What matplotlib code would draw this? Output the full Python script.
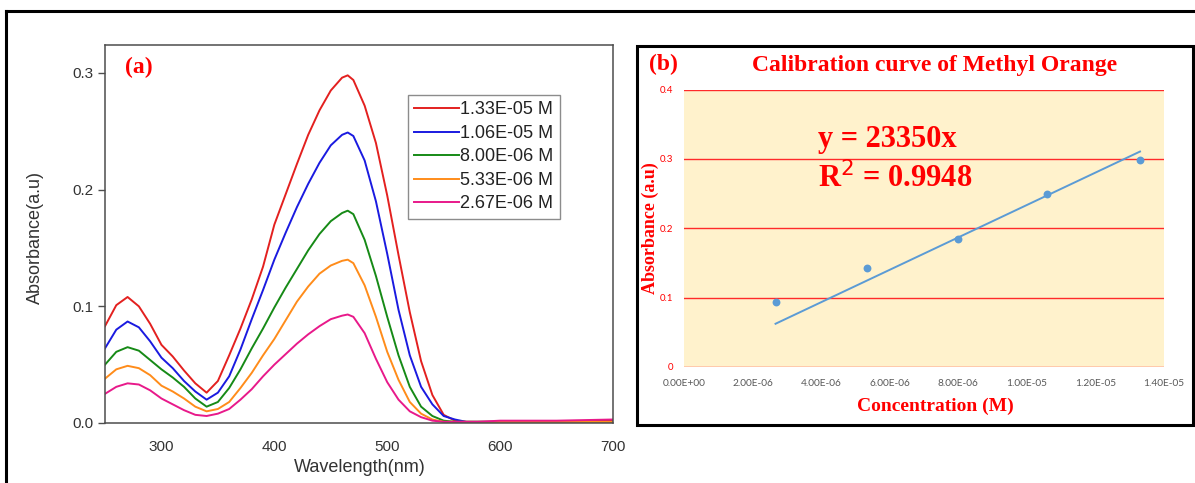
import matplotlib
matplotlib.use('Agg')
import matplotlib.pyplot as plt
from matplotlib.patches import Rectangle
from matplotlib.lines import Line2D

# ---------------- data: panel (a) UV-Vis spectra ----------------
wavelength = [250, 260, 270, 280, 290, 300, 310, 320, 330, 340,
              350, 360, 370, 380, 390, 400, 410, 420, 430, 440,
              450, 460, 465, 470, 480, 490, 500, 510, 520, 530,
              540, 550, 560, 570, 580, 600, 650, 700]

abs_133e5 = [0.083, 0.101, 0.108, 0.100, 0.085, 0.067, 0.057, 0.045, 0.034, 0.026,
             0.036, 0.058, 0.081, 0.106, 0.134, 0.170, 0.196, 0.222, 0.247, 0.268,
             0.285, 0.296, 0.298, 0.294, 0.272, 0.240, 0.195, 0.144, 0.095, 0.053,
             0.024, 0.007, 0.002, 0.001, 0.001, 0.001, 0.001, 0.002]
abs_106e5 = [0.064, 0.080, 0.087, 0.082, 0.070, 0.056, 0.047, 0.036, 0.027, 0.020,
             0.026, 0.040, 0.063, 0.089, 0.114, 0.140, 0.163, 0.185, 0.205, 0.223,
             0.238, 0.247, 0.249, 0.246, 0.225, 0.190, 0.145, 0.097, 0.058, 0.031,
             0.016, 0.006, 0.003, 0.001, 0.001, 0.001, 0.001, 0.001]
abs_800e6 = [0.050, 0.061, 0.065, 0.062, 0.054, 0.046, 0.039, 0.031, 0.021, 0.014,
             0.018, 0.030, 0.046, 0.064, 0.081, 0.099, 0.116, 0.132, 0.148, 0.162,
             0.173, 0.180, 0.182, 0.179, 0.157, 0.126, 0.091, 0.058, 0.031, 0.014,
             0.006, 0.002, 0.001, 0.001, 0.001, 0.001, 0.001, 0.001]
abs_533e6 = [0.038, 0.046, 0.049, 0.047, 0.041, 0.032, 0.027, 0.021, 0.014, 0.010,
             0.012, 0.018, 0.030, 0.043, 0.058, 0.072, 0.088, 0.104, 0.117, 0.128,
             0.135, 0.139, 0.140, 0.137, 0.118, 0.091, 0.061, 0.037, 0.018, 0.008,
             0.003, 0.001, 0.001, 0.001, 0.001, 0.001, 0.001, 0.001]
abs_267e6 = [0.025, 0.031, 0.034, 0.033, 0.028, 0.021, 0.016, 0.011, 0.007, 0.006,
             0.008, 0.012, 0.020, 0.029, 0.040, 0.050, 0.059, 0.068, 0.076, 0.083,
             0.089, 0.092, 0.093, 0.091, 0.077, 0.055, 0.035, 0.020, 0.010, 0.005,
             0.002, 0.001, 0.001, 0.001, 0.001, 0.002, 0.002, 0.003]

series_labels = ['1.33E-05 M', '1.06E-05 M', '8.00E-06 M', '5.33E-06 M', '2.67E-06 M']
series_values = [abs_133e5, abs_106e5, abs_800e6, abs_533e6, abs_267e6]
series_colors = ['#e3201f', '#1a1ae0', '#168a16', '#ff8c1a', '#e8198a']

a_xticks = [300, 400, 500, 600, 700]
a_yticks = [0.0, 0.1, 0.2, 0.3]
a_ytick_labels = ['0.0', '0.1', '0.2', '0.3']

# ---------------- data: panel (b) calibration ----------------
concentration = [2.67e-6, 5.33e-6, 8.00e-6, 1.06e-5, 1.33e-5]
absorbance = [0.093, 0.142, 0.184, 0.249, 0.299]
slope = 23350
b_xticks = [0, 2e-6, 4e-6, 6e-6, 8e-6, 1.0e-5, 1.2e-5, 1.4e-5]
b_xtick_labels = ['0.00E+00', '2.00E-06', '4.00E-06', '6.00E-06', '8.00E-06',
                  '1.00E-05', '1.20E-05', '1.40E-05']
b_yticks = [0, 0.1, 0.2, 0.3, 0.4]
b_ytick_labels = ['0', '0.1', '0.2', '0.3', '0.4']

# ---------------- figure ----------------
W, H = 1195, 483
fig = plt.figure(figsize=(W / 100, H / 100), dpi=100)
fig.patch.set_facecolor('white')

def fx(px):
    return px / W

def fy(py):
    return 1 - py / H

SANS = ['Liberation Sans', 'DejaVu Sans']
SERIF = ['Liberation Serif', 'DejaVu Serif']
RED = '#ff0000'

# outer frame (top and left edges visible)
fig.add_artist(Line2D([fx(6), 1.0], [fy(11), fy(11)], transform=fig.transFigure,
                      color='black', lw=2.2))
fig.add_artist(Line2D([fx(6), fx(6)], [fy(11), 0.0], transform=fig.transFigure,
                      color='black', lw=2.2))

# ---------------- panel (a) ----------------
axa = fig.add_axes([fx(105), fy(423), fx(613) - fx(105), fy(45) - fy(423)])
for vals, lab, col in zip(series_values, series_labels, series_colors):
    axa.plot(wavelength, vals, color=col, lw=1.4, label=lab,
             solid_joinstyle='round')
axa.set_xlim(250, 700)
axa.set_ylim(0, 0.324)
axa.set_xticks(a_xticks)
axa.set_yticks(a_yticks)
axa.set_yticklabels(a_ytick_labels)
for s in axa.spines.values():
    s.set_color('#4d4d4d')
    s.set_linewidth(1.1)
axa.tick_params(axis='y', direction='out', length=5, width=1.0, color='#4d4d4d',
                pad=3, labelsize=11, labelcolor='#333333')
axa.tick_params(axis='x', length=0, pad=12, labelsize=11, labelcolor='#333333')
for t in axa.get_xticklabels() + axa.get_yticklabels():
    t.set_family(SANS)

leg = axa.legend(loc='upper left', bbox_to_anchor=(fx(408), fy(95)),
                 bbox_transform=fig.transFigure, borderaxespad=0,
                 fancybox=False, framealpha=1, edgecolor='#8c8c8c',
                 handlelength=2.5, handletextpad=0.05, labelspacing=0.36,
                 borderpad=0.35, prop={'family': SANS, 'size': 13})
leg.get_frame().set_linewidth(1.0)
for t in leg.get_texts():
    t.set_color('#222222')

fig.text(fx(35), fy(238), 'Absorbance(a.u)', rotation=90, ha='center', va='center',
         family=SANS, fontsize=13, color='#333333')
fig.text(fx(360), fy(468), 'Wavelength(nm)', ha='center', va='center',
         family=SANS, fontsize=13, color='#333333')
fig.text(fx(139), fy(67), '(a)', ha='center', va='center', family=SERIF,
         fontweight='bold', fontsize=17, color=RED)

# ---------------- panel (b) ----------------
fig.add_artist(Rectangle((fx(637), fy(425)), fx(1193) - fx(637), fy(46) - fy(425),
                         transform=fig.transFigure, fill=False, ec='black', lw=2.2))

axb = fig.add_axes([fx(684), fy(367), fx(1164) - fx(684), fy(89.5) - fy(367)])
axb.set_facecolor('#fff2cc')
axb.set_xlim(0, 1.4e-5)
axb.set_ylim(0, 0.4)
for s in axb.spines.values():
    s.set_visible(False)
axb.set_yticks(b_yticks)
axb.set_yticklabels(b_ytick_labels)
axb.set_xticks(b_xticks)
axb.set_xticklabels(b_xtick_labels)
axb.grid(axis='y', color='#ff2a2a', lw=1.0)
axb.set_axisbelow(True)
axb.tick_params(axis='y', length=0, pad=8, labelsize=7, labelcolor=RED)
axb.tick_params(axis='x', length=0, pad=9, labelsize=7.3, labelcolor='#595959')
for t in axb.get_xticklabels() + axb.get_yticklabels():
    t.set_family(['Lato', 'DejaVu Sans'])

trend_x = [concentration[0], concentration[-1]]
trend_y = [slope * c for c in trend_x]
axb.plot(trend_x, trend_y, color='#5b9bd5', lw=1.4, zorder=3)
axb.scatter(concentration, absorbance, s=32, color='#5b9bd5', zorder=4, linewidths=0)

fig.text(fx(663), fy(64), '(b)', ha='center', va='center', family=SERIF,
         fontweight='bold', fontsize=17, color=RED)
fig.text(fx(935), fy(66), 'Calibration curve of Methyl Orange', ha='center', va='center',
         family=SERIF, fontweight='bold', fontsize=17, color=RED)
fig.text(fx(818), fy(139), 'y = 23350x', ha='left', va='center', family=SERIF,
         fontweight='bold', fontsize=22, color=RED)
fig.text(fx(818), fy(178), 'R$^{2}$ = 0.9948', ha='left', va='center', family=SERIF,
         fontweight='bold', fontsize=22, color=RED)
fig.text(fx(650), fy(228), 'Absorbance (a.u)', rotation=90, ha='center', va='center',
         family=SERIF, fontweight='bold', fontsize=13, color=RED)
fig.text(fx(935), fy(406), 'Concentration (M)', ha='center', va='center', family=SERIF,
         fontweight='bold', fontsize=14, color=RED)

fig.savefig('out.png', dpi=100)
